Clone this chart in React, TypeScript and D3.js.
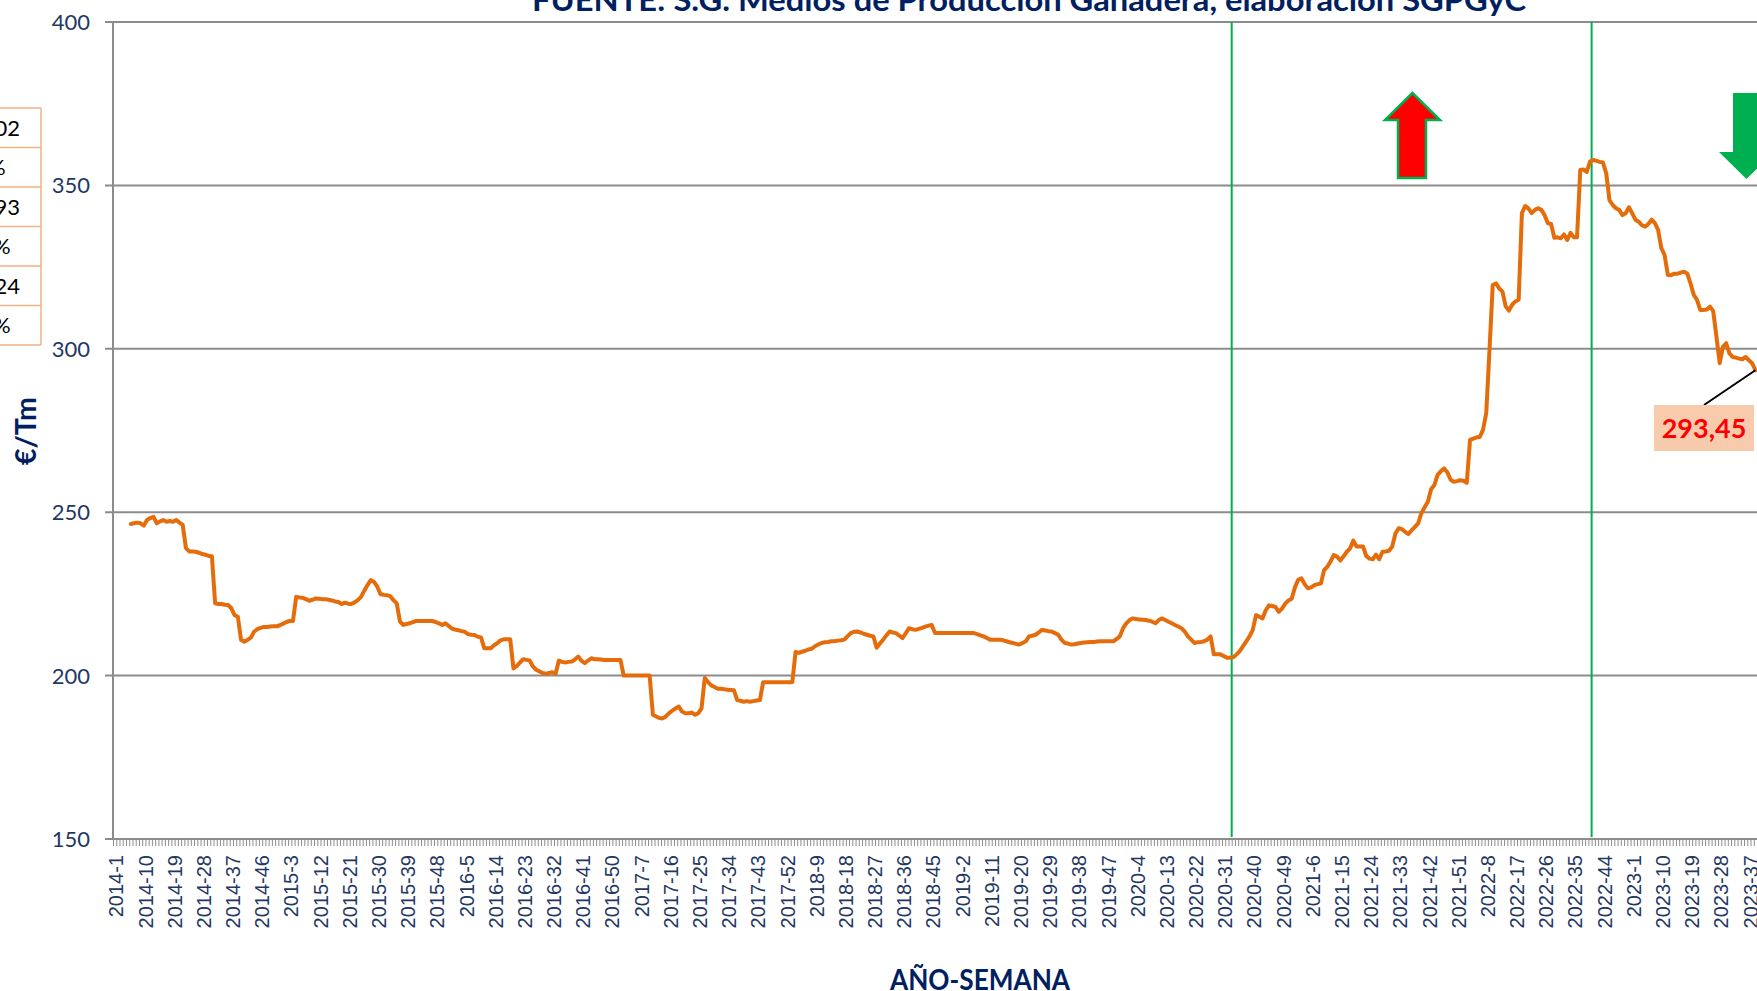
import React from "react";
import * as d3 from "d3";

// ---- Data: weekly price (€/Tm), one array per year (index = week-1) ----
const P2014: (number | null)[] = [null, null, null, null, null,
  246.4, 246.6, 246.8, 246.6, 245.9, 247.6, 248.2, 248.6, 246.6, 247.2, 247.6, 247.1, 247.3, 247.1, 247.6, 246.8, 246.1,
  239.0, 238.0, 238.0, 237.9, 237.6, 237.2, 237.0, 236.6, 236.5, 222.1, 221.9, 221.9, 221.7, 221.6, 220.6, 218.5, 218.0,
  210.9, 210.4, 210.9, 211.6, 213.4, 214.2, 214.6, 214.9, 214.9, 215.0, 215.1, 215.1, 215.4];
const P2015: number[] = [215.9, 216.4, 216.7, 216.7, 224.1, 223.9, 223.8, 223.4, 222.9, 223.2, 223.6, 223.5, 223.4, 223.4,
  223.2, 223.0, 222.7, 222.5, 221.9, 222.3, 222.0, 221.9, 222.4, 223.1, 224.1, 226.0, 227.7, 229.2, 228.7, 227.2, 224.9,
  224.7, 224.6, 224.3, 223.1, 222.1, 216.5, 215.5, 215.8, 216.0, 216.4, 216.7, 216.7, 216.7, 216.7, 216.7, 216.7, 216.4,
  216.0, 215.5, 216.0, 215.2];
const P2016: number[] = [214.4, 214.1, 213.9, 213.6, 213.4, 212.7, 212.5, 212.4, 211.9, 211.7, 208.4, 208.4, 208.4, 209.3,
  209.9, 210.8, 211.1, 211.1, 211.1, 202.2, 202.9, 204.0, 205.0, 204.8, 204.6, 202.8, 201.8, 201.3, 200.8, 200.6, 200.8,
  201.0, 200.6, 204.6, 204.2, 204.0, 204.2, 204.3, 205.0, 205.8, 204.5, 203.8, 204.6, 205.3, 205.0, 205.0, 204.9, 204.8,
  204.8, 204.8, 204.8, 204.8];
const P2017: number[] = [204.8, 200.0, 200.0, 200.0, 200.0, 200.0, 200.0, 200.0, 200.0, 200.0, 188.0, 187.5, 187.0, 186.9,
  187.5, 188.5, 189.3, 190.0, 190.5, 189.0, 188.5, 188.5, 188.7, 188.0, 188.5, 190.0, 199.3, 198.0, 197.0, 196.5, 196.0,
  196.0, 195.8, 195.7, 195.6, 195.5, 192.5, 192.3, 192.0, 192.2, 192.0, 192.2, 192.4, 192.5, 198.0, 198.0, 198.0, 198.0,
  198.0, 198.0, 198.0, 198.0];
const P2018: number[] = [198.0, 198.0, 207.2, 207.0, 207.3, 207.6, 208.0, 208.2, 209.0, 209.5, 210.0, 210.2, 210.3, 210.5,
  210.5, 210.7, 210.8, 211.0, 212.0, 213.0, 213.4, 213.5, 213.2, 212.8, 212.5, 212.2, 212.0, 208.5, 209.8, 211.0, 212.3,
  213.5, 213.2, 213.0, 212.2, 211.5, 213.0, 214.5, 214.2, 214.0, 214.3, 214.6, 215.0, 215.3, 215.5, 213.0, 213.0, 213.0,
  213.0, 213.0, 213.0, 213.0];
const P2019: number[] = [213.0, 213.0, 213.0, 213.0, 213.0, 213.0, 212.7, 212.3, 212.0, 211.5, 211.0, 211.0, 211.0, 211.0,
  210.8, 210.5, 210.2, 210.0, 209.7, 209.5, 210.0, 210.5, 212.0, 212.2, 212.5, 213.2, 214.0, 213.8, 213.6, 213.5, 213.0,
  212.5, 211.0, 210.0, 209.8, 209.5, 209.6, 209.8, 210.0, 210.1, 210.2, 210.3, 210.3, 210.4, 210.5, 210.5, 210.5, 210.5,
  210.5, 211.2, 212.0, 214.5];
const P2020: number[] = [216.0, 217.0, 217.5, 217.3, 217.2, 217.1, 217.0, 216.8, 216.5, 216.0, 217.0, 217.5, 217.0, 216.5,
  216.0, 215.5, 215.0, 214.5, 213.5, 212.0, 211.0, 210.0, 210.2, 210.3, 210.5, 211.0, 212.0, 206.5, 206.5, 206.5, 206.0,
  205.5, 205.5, 205.6, 206.5, 207.5, 209.0, 210.5, 212.0, 214.0, 218.5, 218.0, 217.5, 220.0, 221.5, 221.3, 221.0, 219.5,
  220.5, 222.0, 223.0, 223.5];
const P2021: number[] = [227.0, 229.3, 229.8, 228.0, 226.7, 227.0, 227.7, 228.0, 228.2, 232.3, 233.3, 235.0, 236.9, 236.4,
  235.2, 236.5, 237.9, 238.9, 241.3, 239.5, 239.5, 239.5, 236.6, 235.8, 235.6, 237.0, 235.6, 237.9, 238.0, 238.2, 239.5,
  243.5, 245.1, 244.8, 244.0, 243.3, 244.5, 245.5, 246.6, 249.7, 251.5, 253.2, 257.0, 258.3, 261.4, 262.5, 263.4, 262.2,
  260.0, 259.3, 259.5, 259.8];
const P2022: number[] = [259.6, 259.0, 272.1, 272.5, 272.9, 273.0, 275.2, 280.3, 299.6, 319.5, 320.0, 318.5, 317.5, 313.0,
  311.7, 313.5, 314.5, 315.0, 341.5, 343.7, 343.0, 341.5, 342.5, 343.0, 342.5, 340.9, 338.4, 338.2, 334.0, 334.1, 333.8,
  335.0, 333.3, 335.5, 334.1, 334.1, 354.7, 354.9, 354.1, 357.3, 357.8, 357.5, 357.2, 357.0, 353.7, 345.5, 344.0, 343.0,
  342.5, 340.9, 341.5, 343.3];
const P2023: number[] = [341.5, 339.5, 338.9, 337.8, 337.4, 338.2, 339.5, 338.5, 336.4, 330.8, 328.7, 322.6, 322.5, 323.0,
  323.0, 323.3, 323.6, 323.0, 320.0, 316.5, 315.0, 311.9, 311.9, 312.0, 312.9, 311.5, 303.7, 295.6, 300.6, 301.7, 298.6,
  297.5, 297.3, 297.0, 296.8, 297.5, 296.5, 295.6, 293.45];

const YEARS = [2014, 2015, 2016, 2017, 2018, 2019, 2020, 2021, 2022, 2023];
const YEAR_SERIES = [P2014, P2015, P2016, P2017, P2018, P2019, P2020, P2021, P2022, P2023];

const Y_TICKS = [150, 200, 250, 300, 350, 400];
const LABEL_EVERY = 9;
const MARKER_WEEKS = ["2020-34", "2022-41"];
const LAST_LABEL = "293,45";
const TITLE = "FUENTE: S.G. Medios de Producción Ganadera, elaboración SGPGyC";
const Y_TITLE = "€/Tm";
const X_TITLE = "AÑO-SEMANA";
const TABLE_CELLS = ["02", "%", "93", "%", "24", "%"];

// flatten
const CATEGORIES: string[] = [];
const VALUES: (number | null)[] = [];
YEARS.forEach((yr, k) => {
  YEAR_SERIES[k].forEach((v, w) => {
    CATEGORIES.push(`${yr}-${w + 1}`);
    VALUES.push(v);
  });
});

const W = 1757;
const H = 991;
const PLOT_L = 113;
const PLOT_R = 1757;
const PLOT_T = 22;
const PLOT_B = 839;

const NAVY = "#1F3864";
const TITLE_NAVY = "#002060";
const GRID = "#8C8C8C";
const ORANGE = "#E46C0A";
const GREEN = "#00B050";

export default function App() {
  const x = d3.scaleBand<string>().domain(CATEGORIES).range([PLOT_L, PLOT_R]).paddingInner(0).paddingOuter(0);
  const bw = x.bandwidth();
  const cx = (c: string) => (x(c) as number) + bw / 2;
  const y = d3.scaleLinear().domain([150, 400]).range([PLOT_B, PLOT_T]);

  const pts = CATEGORIES.map((c, i) => ({ c, v: VALUES[i] }));
  const line = d3
    .line<{ c: string; v: number | null }>()
    .defined((d) => d.v != null)
    .x((d) => cx(d.c))
    .y((d) => y(d.v as number));
  const pathD = line(pts) || "";

  const lastIdx = VALUES.length - 1;
  const lastX = cx(CATEGORIES[lastIdx]);
  const lastY = y(VALUES[lastIdx] as number);

  // table rows
  const tableTop = 108;
  const rowH = 39.5;
  const tableRight = 41;
  const pctEnds = [20, 5.7, 20, 10.7, 20, 10.7];

  return (
    <svg width={W} height={H} style={{ position: "absolute", left: 0, top: 0, background: "#fff" }}>
      <rect x={0} y={0} width={W} height={H} fill="#fff" />

      {/* title (cut at top) */}
      <text x={1029} y={11} textAnchor="middle" fontFamily="Lato, 'Open Sans', sans-serif" fontWeight={700}
        fontSize={31} fill={TITLE_NAVY} textLength={994} lengthAdjust="spacingAndGlyphs">{TITLE}</text>

      {/* gridlines */}
      {Y_TICKS.map((t) => (
        <g key={t}>
          <line x1={PLOT_L - 8} x2={PLOT_R} y1={y(t)} y2={y(t)} stroke={GRID} strokeWidth={2} />
          <text x={90} y={y(t)} dy="0.36em" textAnchor="end" fontFamily="Lato, sans-serif" fontSize={22} fill={NAVY}>{t}</text>
        </g>
      ))}

      {/* y axis */}
      <line x1={PLOT_L} x2={PLOT_L} y1={PLOT_T} y2={PLOT_B} stroke={GRID} strokeWidth={2} />

      {/* category tick marks */}
      {CATEGORIES.map((c) => (
        <line key={"t" + c} x1={(x(c) as number) + 0.5} x2={(x(c) as number) + 0.5} y1={PLOT_B} y2={PLOT_B + 7} stroke={GRID} strokeWidth={1} />
      ))}

      {/* x labels */}
      {CATEGORIES.map((c, i) =>
        i % LABEL_EVERY === 0 ? (
          <text key={"l" + c} transform={`translate(${cx(c) + 1.5},855) rotate(-90)`} dy="0.36em" textAnchor="end"
            fontFamily="'Liberation Sans', Arial, sans-serif" fontSize={20} fill={NAVY}>{c}</text>
        ) : null
      )}

      {/* green marker lines */}
      {MARKER_WEEKS.map((m) => (
        <line key={m} x1={x(m) as number} x2={x(m) as number} y1={PLOT_T} y2={PLOT_B - 2} stroke={GREEN} strokeWidth={2} />
      ))}

      {/* series */}
      <path d={pathD} fill="none" stroke={ORANGE} strokeWidth={4} strokeLinejoin="round" strokeLinecap="round" />

      {/* arrows */}
      <polygon points="1412.4,93 1440,120 1426,120 1426,178 1398,178 1398,120 1385,120" fill="#FF0000" stroke={GREEN} strokeWidth={2.5} />
      <polygon points="1733,93 1760,93 1760,152 1774,152 1746.4,179 1719,152 1733,152" fill={GREEN} />

      {/* last value label */}
      <line x1={1704} y1={405} x2={lastX} y2={lastY} stroke="#000" strokeWidth={2} />
      <rect x={1654} y={405} width={100} height={46} fill="#F8CBAD" />
      <text x={1704} y={428} dy="0.36em" textAnchor="middle" fontFamily="Lato, sans-serif" fontWeight={700} fontSize={27}
        fill="#FF0000">{LAST_LABEL}</text>

      {/* axis titles */}
      <text transform="translate(36,431) rotate(-90)" textAnchor="middle" fontFamily="Lato, sans-serif" fontWeight={700}
        fontSize={28} fill={TITLE_NAVY} textLength={68} lengthAdjust="spacingAndGlyphs">{Y_TITLE}</text>
      <text x={980} y={990} textAnchor="middle" fontFamily="Lato, sans-serif" fontWeight={700} fontSize={28}
        fill={TITLE_NAVY} textLength={180} lengthAdjust="spacingAndGlyphs">{X_TITLE}</text>

      {/* cut-off table at left */}
      {TABLE_CELLS.map((t, i) => (
        <g key={"r" + i}>
          <text x={pctEnds[i]} y={tableTop + rowH * (i + 0.5)} dy="0.36em" textAnchor="end" fontFamily="Lato, sans-serif"
            fontSize={22} fill="#000">{t}</text>
        </g>
      ))}
      {d3.range(TABLE_CELLS.length + 1).map((i) => (
        <line key={"h" + i} x1={0} x2={tableRight} y1={tableTop + rowH * i} y2={tableTop + rowH * i} stroke="#F4B183" strokeWidth={1.5} />
      ))}
      <line x1={tableRight} x2={tableRight} y1={tableTop} y2={tableTop + rowH * TABLE_CELLS.length} stroke="#F4B183" strokeWidth={1.5} />
    </svg>
  );
}
